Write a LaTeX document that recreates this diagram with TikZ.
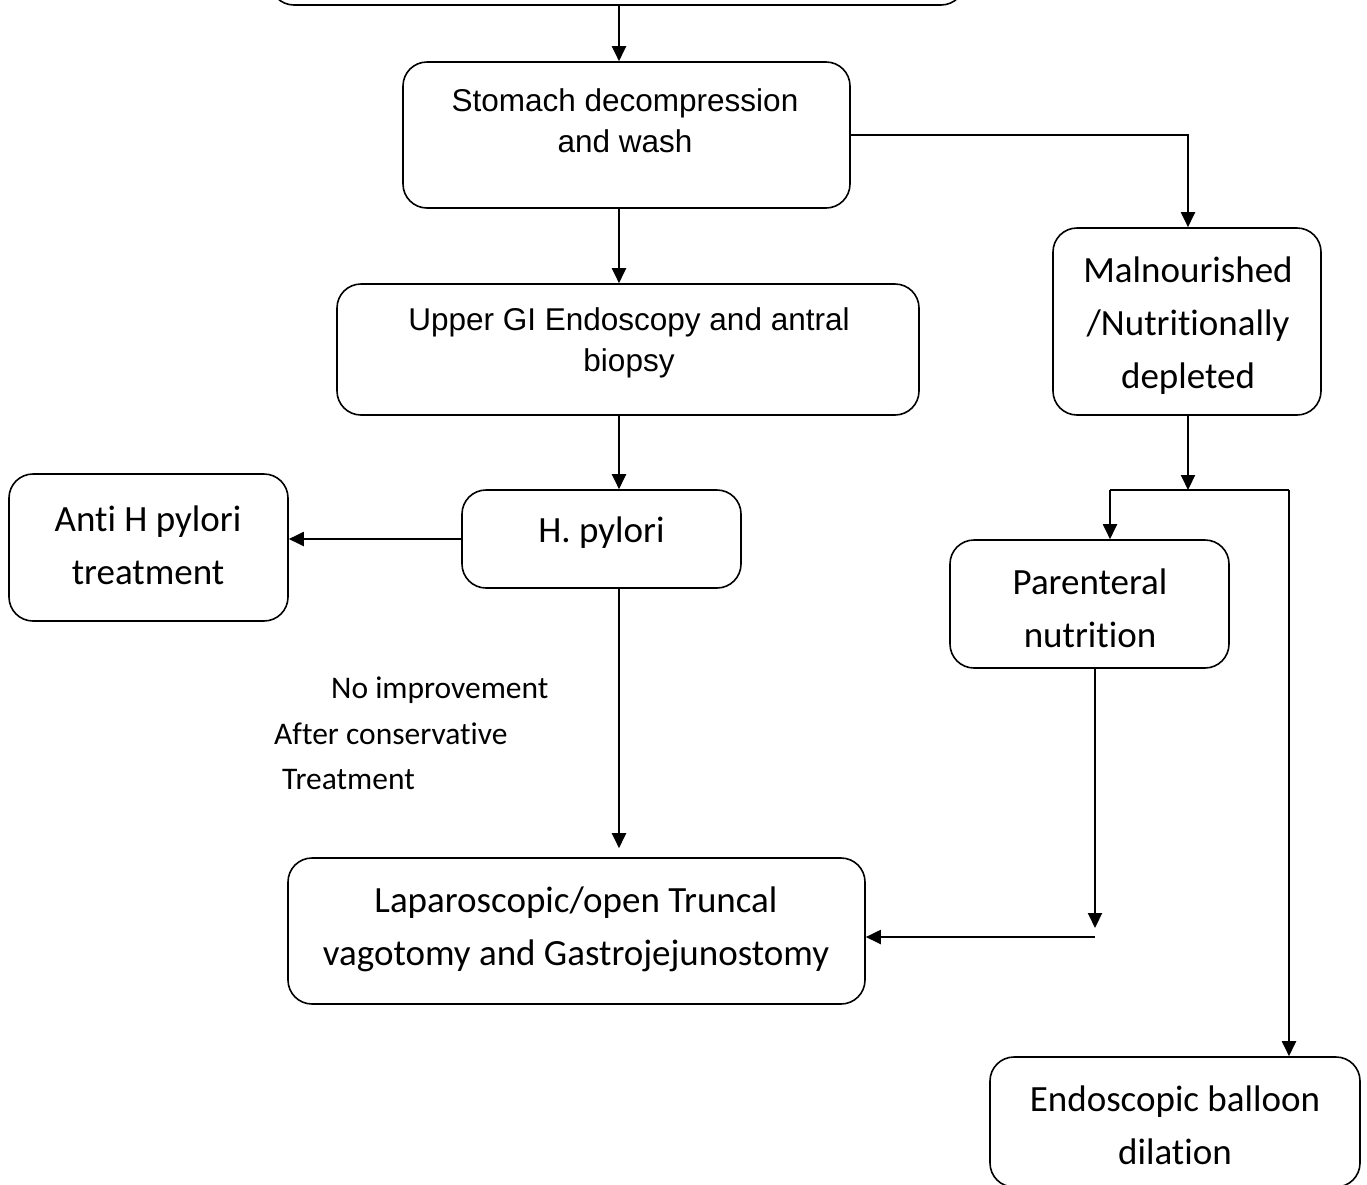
\documentclass[tikz,border=0pt]{standalone}
\usepackage{fontspec}
\setmainfont{Carlito}[Ligatures=NoCommon]
\newfontfamily\arialf{Liberation Sans}
\usetikzlibrary{arrows.meta,calc}
\begin{document}
\begin{tikzpicture}[x=1pt,y=-1pt,
  box/.style={draw=black,line width=1.6pt,rounded corners=24pt,inner sep=0pt},
  arr/.style={line width=2pt,-{Triangle[length=15pt,width=14pt]}},
  ln/.style={line width=2pt},
  txtA/.style={font=\arialf\fontsize{31.5}{41}\selectfont,align=center,inner sep=0pt},
  txtC/.style={font=\fontsize{37}{53}\selectfont,align=center,inner sep=0pt},
  txtL/.style={font=\fontsize{31.5}{44}\selectfont,inner sep=0pt,anchor=west}]
\useasboundingbox (0,0) rectangle (1367,1184);
\begin{scope}
\clip (0,0) rectangle (1367,1184);
% boxes
\node[box,minimum width=695pt,minimum height=60pt] (top) at (617.5,-25) {};
\node[box,minimum width=447pt,minimum height=146pt] (stom) at (626.5,135) {};
\node[box,minimum width=582pt,minimum height=131pt] (ugi) at (628,349.5) {};
\node[box,minimum width=268pt,minimum height=187pt] (mal) at (1187,321.5) {};
\node[box,minimum width=279pt,minimum height=98pt] (hp) at (601.5,539) {};
\node[box,minimum width=279pt,minimum height=147pt] (anti) at (148.5,547.5) {};
\node[box,minimum width=279pt,minimum height=128pt] (par) at (1089.5,604) {};
\node[box,minimum width=577pt,minimum height=146pt] (lap) at (576.5,931) {};
\node[box,minimum width=370pt,minimum height=130pt] (endo) at (1175,1122) {};
\end{scope}
% texts
\node[txtA] (tstom) at (625,121) {Stomach decompression\\and wash};
\node[txtA] (tugi) at (629,343) {Upper GI Endoscopy and antral\\biopsy};
\node[txtC] (tmal) at (1188,326) {Malnourished\\/Nutritionally\\depleted};
\node[txtC] (thp) at (601.5,533) {H. pylori};
\node[txtC] (tanti) at (148,545) {Anti H pylori\\treatment};
\node[txtC] (tpar) at (1090,608) {Parenteral\\nutrition};
\node[txtC] (tlap) at (576,929) {Laparoscopic/open Truncal\\vagotomy and Gastrojejunostomy};
\node[txtC] (tendo) at (1175,1125) {Endoscopic balloon\\dilation};
\node[txtL] (l1) at (331,690) {No improvement};
\node[txtL] (l2) at (274,734) {After conservative};
\node[txtL] (l3) at (282,779) {Treatment};
% coordinates
\coordinate (cx) at (619,0);
\coordinate (split) at (1188,490);
\coordinate (sl) at (1110,490);
\coordinate (sr) at (1289,490);
\coordinate (pd) at (1095,928);
\coordinate (ph) at (1095,937);
% connectors
\draw[arr] (top.south -| cx) -- (stom.north -| cx);
\draw[arr] (stom.east) -| (mal.north -| split);
\draw[arr] (stom.south -| cx) -- (ugi.north -| cx);
\draw[arr] (ugi.south -| cx) -- (hp.north -| cx);
\draw[arr] (hp.west) -- (anti.east |- hp.west);
\draw[arr,shorten >=9pt] (hp.south -| cx) -- (lap.north -| cx);
\draw[arr] (mal.south -| split) -- (split);
\draw[ln] (sl) -- (sr);
\draw[arr] (sl) -- (par.north -| sl);
\draw[arr] (sr) -- (endo.north -| sr);
\draw[arr] (par.south -| pd) -- (pd);
\draw[arr] (ph) -- (lap.east |- ph);
\end{tikzpicture}
\end{document}
